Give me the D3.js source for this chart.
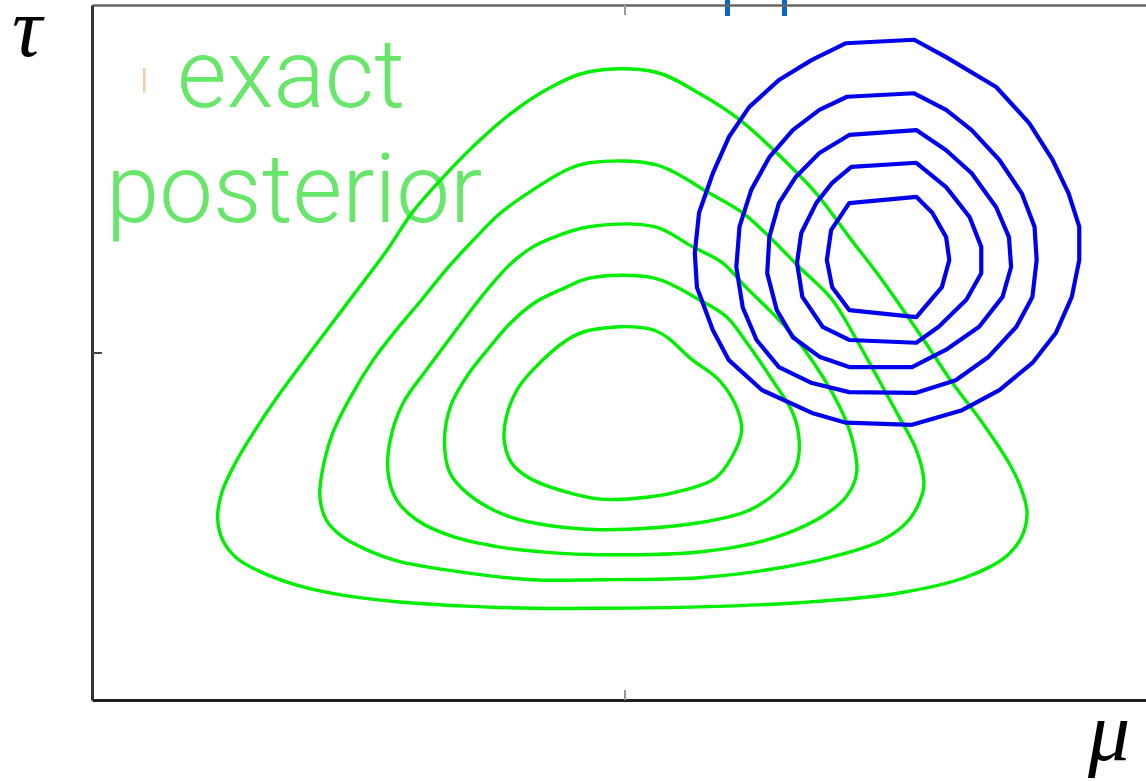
<!DOCTYPE html>
<html>
<head>
<meta charset="utf-8">
<script src="https://cdn.jsdelivr.net/npm/d3@7"></script>
<style>
  html, body { margin: 0; padding: 0; background: #fff; overflow: hidden; }
  svg { display: block; }
</style>
</head>
<body>
<svg id="chart" width="1146" height="781"></svg>
<script>
// Contour levels of the exact posterior over (mu, tau), outermost first.
// Each ring is a closed list of [mu, tau] points in axis units (0..10).
const exactLevel1 = [
  [4.67,9.04],[5.28,9.04],[5.70,8.73],[6.08,8.35],[6.43,7.87],[6.80,7.29],[7.11,6.66],[7.42,6.04],
  [7.81,5.18],[8.08,4.56],[8.36,3.99],[8.61,3.41],[8.73,3.02],[8.78,2.69],[8.73,2.35],[8.58,2.06],
  [8.21,1.77],[7.58,1.54],[6.64,1.40],[5.70,1.34],[4.77,1.32],[4.14,1.32],[3.52,1.35],[2.89,1.41],
  [2.35,1.51],[1.93,1.65],[1.59,1.84],[1.36,2.04],[1.23,2.29],[1.18,2.61],[1.22,2.99],
  [1.36,3.45],[1.53,3.88],[1.74,4.36],[1.98,4.86],[2.23,5.37],[2.51,5.94],[2.77,6.47],[3.01,7.02],
  [3.29,7.51],[3.61,8.01],[3.95,8.46],[4.30,8.81]
];
const exactLevel2 = [
  [4.67,7.73],[5.30,7.70],[5.80,7.29],[6.11,7.01],[6.39,6.62],[6.64,6.23],[6.95,5.76],[7.18,5.18],
  [7.39,4.60],[7.58,4.07],[7.74,3.60],[7.81,3.17],[7.80,2.98],[7.67,2.59],[7.42,2.30],[6.95,2.06],
  [6.33,1.87],[5.70,1.76],[4.77,1.73],[4.14,1.73],[3.52,1.83],[2.89,1.99],[2.64,2.12],[2.35,2.35],
  [2.20,2.59],[2.14,2.92],[2.16,3.27],[2.26,3.84],[2.45,4.42],[2.64,4.89],[2.86,5.33],[3.08,5.73],
  [3.33,6.20],[3.57,6.60],[3.83,7.00],[4.14,7.34],[4.46,7.63]
];
const exactLevel3 = [
  [4.67,6.81],[5.28,6.81],[5.64,6.52],[5.92,6.29],[6.14,5.94],[6.45,5.47],[6.69,5.04],[7.02,4.22],
  [7.14,3.74],[7.18,3.27],[7.08,2.92],[6.80,2.59],[6.33,2.30],[5.70,2.13],[4.77,2.09],[4.30,2.12],
  [3.83,2.20],[3.39,2.35],[3.05,2.59],[2.86,2.88],[2.78,3.27],[2.80,3.74],[2.92,4.27],[3.14,4.75],
  [3.33,5.14],[3.52,5.53],[3.71,5.90],[3.92,6.26],[4.14,6.52],[4.39,6.69]
];
const exactLevel4 = [
  [4.67,6.07],[5.28,6.07],[5.70,5.76],[5.96,5.51],[6.13,5.18],[6.39,4.60],[6.58,4.13],[6.64,3.74],
  [6.61,3.35],[6.45,3.02],[6.17,2.73],[5.70,2.55],[4.77,2.45],[4.14,2.55],[3.83,2.69],[3.52,2.98],
  [3.36,3.27],[3.31,3.74],[3.37,4.24],[3.53,4.68],[3.73,5.07],[3.94,5.44],[4.17,5.73],[4.44,5.93]
];
const exactLevel5 = [
  [4.67,5.32],[5.28,5.32],[5.64,4.89],[5.89,4.60],[6.05,4.22],[6.10,3.88],[6.01,3.50],[5.85,3.19],
  [5.56,3.02],[5.23,2.92],[4.77,2.89],[4.46,2.99],[4.11,3.19],[3.94,3.41],[3.87,3.74],[3.89,4.07],
  [3.99,4.46],[4.14,4.75],[4.46,5.18]
];

// Contour levels of the factorised approximation, outermost first.
const approxLevel1 = [
  [7.08,9.45],[7.72,9.50],[8.02,9.25],[8.49,8.82],[8.80,8.30],[9.02,7.77],[9.17,7.29],[9.27,6.81],
  [9.27,6.33],[9.20,5.80],[9.05,5.28],[8.83,4.85],[8.52,4.46],[8.17,4.17],[7.70,3.96],[7.08,3.99],
  [6.76,4.13],[6.29,4.46],[5.98,4.89],[5.83,5.32],[5.68,5.94],[5.66,6.43],[5.70,7.01],[5.83,7.58],
  [5.98,8.10],[6.17,8.53],[6.45,8.92],[6.76,9.21]
];
const approxLevel2 = [
  [7.09,8.68],[7.72,8.73],[8.02,8.49],[8.26,8.20],[8.52,7.77],[8.73,7.29],[8.85,6.81],[8.87,6.33],
  [8.83,5.80],[8.68,5.37],[8.42,4.94],[8.11,4.60],[7.74,4.42],[7.11,4.43],[6.76,4.56],[6.45,4.79],
  [6.24,5.18],[6.11,5.65],[6.05,6.23],[6.08,6.81],[6.19,7.34],[6.36,7.81],[6.58,8.20],[6.83,8.49]
];
const approxLevel3 = [
  [7.11,8.13],[7.74,8.20],[8.02,7.91],[8.26,7.58],[8.49,7.09],[8.61,6.66],[8.63,6.23],[8.55,5.80],
  [8.33,5.37],[8.02,5.04],[7.70,4.79],[7.11,4.79],[6.83,4.94],[6.58,5.22],[6.43,5.61],[6.34,6.14],
  [6.36,6.66],[6.45,7.15],[6.61,7.53],[6.83,7.87]
];
const approxLevel4 = [
  [7.13,7.67],[7.74,7.73],[8.02,7.38],[8.24,6.95],[8.35,6.52],[8.35,6.14],[8.21,5.76],[7.95,5.37],
  [7.74,5.14],[7.11,5.18],[6.86,5.37],[6.67,5.80],[6.62,6.29],[6.66,6.72],[6.80,7.15],[6.95,7.44]
];
const approxLevel5 = [
  [7.11,7.15],[7.74,7.24],[7.89,7.01],[8.02,6.66],[8.05,6.33],[7.98,5.94],[7.74,5.51],[7.11,5.61],
  [6.95,5.94],[6.90,6.33],[6.94,6.76]
];

const exactLevels = [exactLevel1, exactLevel2, exactLevel3, exactLevel4, exactLevel5];
const approxLevels = [approxLevel1, approxLevel2, approxLevel3, approxLevel4, approxLevel5];

// Axis ranges and the single mid tick on each side.
const muDomain = [0, 10];
const tauDomain = [0, 10];
const muTicks = [5];
const tauTicks = [5];

const labelLines = ["exact", "posterior"];

const svg = d3.select("#chart");
const frame = { left: 92, right: 1157, top: 5, bottom: 700 };

const x = d3.scaleLinear().domain(muDomain).range([frame.left, frame.right]);
const y = d3.scaleLinear().domain(tauDomain).range([frame.bottom, frame.top]);

// Label behind the contours
const label = svg.append("g")
  .attr("font-family", "Roboto, 'Liberation Sans', sans-serif")
  .attr("font-weight", 300)
  .attr("font-size", 96)
  .attr("fill", "#68e66a");
label.append("text").attr("x", 177).attr("y", 107).text(labelLines[0]);
label.append("text").attr("x", 106).attr("y", 222).text(labelLines[1]);

// fragments of cut-off annotations at the edges
svg.append("rect").attr("x", 143).attr("y", 68).attr("width", 2.5).attr("height", 25)
  .attr("fill", "#f2cfa6");
svg.append("g").selectAll("rect").data([727.5, 784.5]).join("rect")
  .attr("x", d => d - 2.5).attr("y", 0).attr("width", 5).attr("height", 16)
  .attr("fill", "#0a66c6");

const lineGen = d3.line()
  .x(d => x(d[0]))
  .y(d => y(d[1]));

svg.append("g").selectAll("path").data(exactLevels).join("path")
  .attr("d", lineGen.curve(d3.curveCatmullRomClosed.alpha(0.5)))
  .attr("fill", "none")
  .attr("stroke", "#00ee00")
  .attr("stroke-width", 3.4)
  .attr("stroke-linejoin", "round");

svg.append("g").selectAll("path").data(approxLevels).join("path")
  .attr("d", d3.line().x(d => x(d[0])).y(d => y(d[1])).curve(d3.curveLinearClosed))
  .attr("fill", "none")
  .attr("stroke", "#0000ee")
  .attr("stroke-width", 4.2)
  .attr("stroke-linejoin", "round");

// Box axes with inward ticks and no tick labels
function boxAxis(axis, transform, color, width, tickColor) {
  svg.append("g").attr("transform", transform)
    .call(axis.tickSizeInner(-10).tickSizeOuter(0).tickFormat(""))
    .call(g => {
      g.select(".domain").attr("stroke", color).attr("stroke-width", width);
      g.selectAll(".tick line").attr("stroke", tickColor).attr("stroke-width", 2);
      g.selectAll(".tick text").remove();
    });
}
boxAxis(d3.axisBottom(x).tickValues(muTicks), `translate(0,${frame.bottom})`, "#222", 3, "#999");
boxAxis(d3.axisTop(x).tickValues(muTicks), `translate(0,${frame.top})`, "#666", 2.5, "#999");
boxAxis(d3.axisLeft(y).tickValues(tauTicks), `translate(${frame.left},0)`, "#333", 3, "#444");
boxAxis(d3.axisRight(y).tickValues(tauTicks), `translate(${frame.right},0)`, "#333", 3, "#666");

// Axis symbols
svg.append("text").attr("x", 12).attr("y", 56)
  .attr("font-family", "'Liberation Serif', 'DejaVu Serif', serif")
  .attr("font-style", "italic").attr("font-size", 84).attr("fill", "#000")
  .text("τ");
svg.append("text").attr("x", 1088).attr("y", 760)
  .attr("font-family", "'Liberation Serif', 'DejaVu Serif', serif")
  .attr("font-style", "italic").attr("font-size", 84).attr("fill", "#000")
  .text("μ");
</script>
</body>
</html>
